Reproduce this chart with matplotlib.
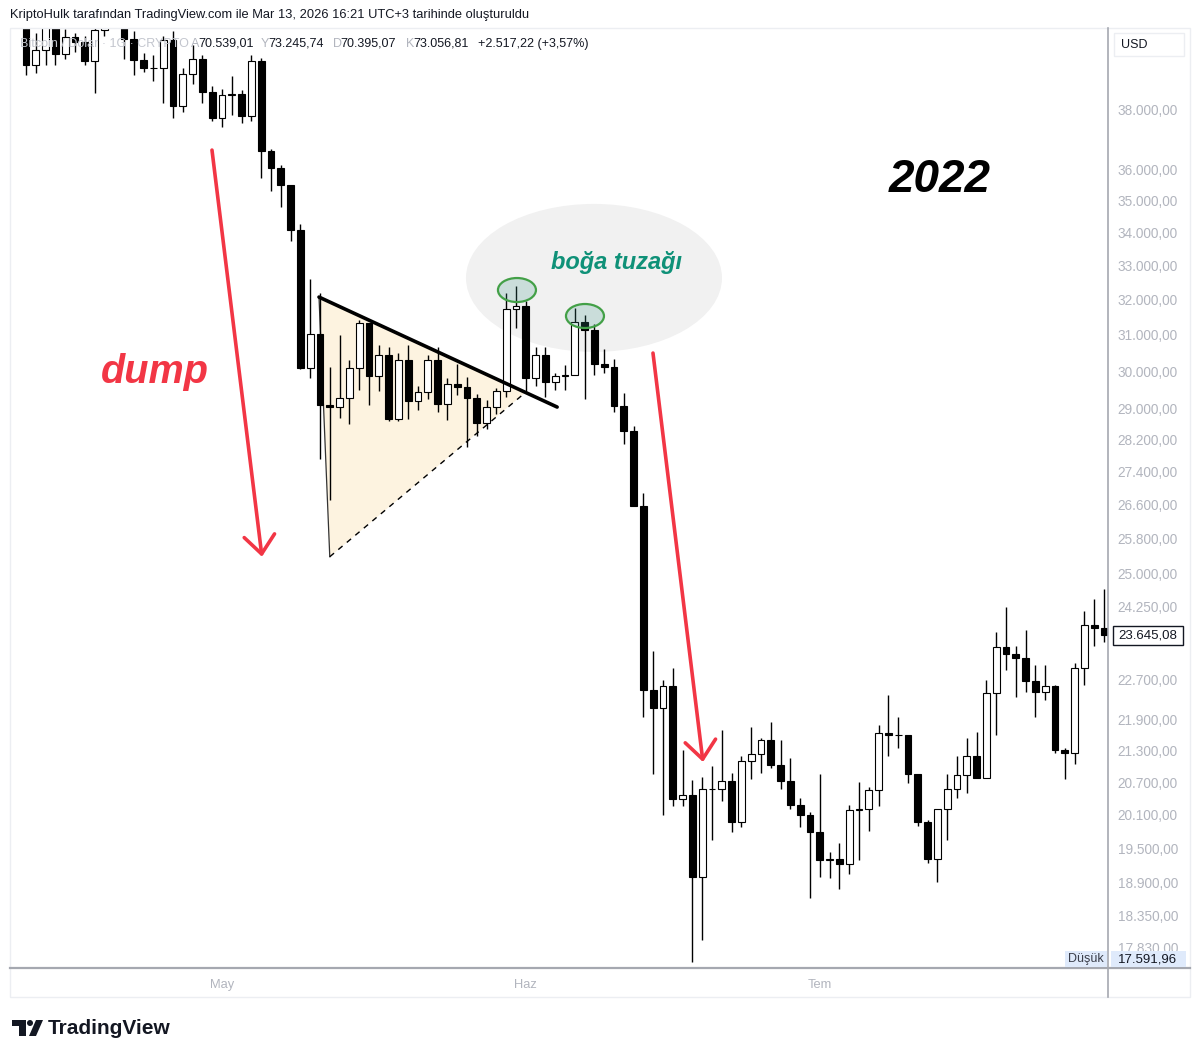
import matplotlib
matplotlib.use("Agg")
import matplotlib.pyplot as plt
from matplotlib.patches import Ellipse, Rectangle, Polygon
from matplotlib.lines import Line2D
from matplotlib.transforms import IdentityTransform
from matplotlib.ticker import FixedLocator, NullLocator, FuncFormatter
import numpy as np
import pandas as pd

# BTC / USD daily candles, 10 Apr - 30 Jul 2022
dates = pd.date_range("2022-04-10", "2022-07-30", freq="D")
opens = [42780, 42200, 39530, 40080, 41150, 39940, 40550, 40380, 39680, 40800, 41500, 41360,
         40480, 39710, 39450, 39450, 40430, 38120, 39240, 39740, 38600,
         37710, 38470, 38530, 37750, 39700, 36580, 36040, 35500, 34060, 30080, 31020, 29100,
         29050, 29290, 30080, 31330, 29870, 30440, 28720, 30310, 29200, 29430, 30290, 29110,
         29650, 29560, 29270, 28630, 29030, 29470, 31730,
         31800, 29800, 30450, 29700, 29860, 29900, 31370, 31130, 30200, 30110, 29080, 28420,
         26570, 22490, 22140, 22580, 20380, 20470, 19000, 20570, 20580, 20720, 19970, 21100,
         21230, 21500, 21030, 20730, 20280, 20100,
         19780, 19290, 19310, 19230, 20190, 20200, 20550, 21630, 21590, 21590, 20850, 19960,
         19320, 20210, 20570, 20830, 21190, 20780, 22430, 23390, 23230, 23160, 22680, 22460,
         22580, 21310, 21250, 22950, 23850, 23780]
highs = [43420, 42420, 40700, 41550, 41500, 40850, 40700, 40600, 41100, 41750, 42150, 42950,
         40780, 39980, 39900, 40600, 40780, 39450, 40250, 39900, 38800,
         38700, 39150, 38650, 39900, 39800, 36650, 36140, 35500, 34250, 32600, 32200, 30100,
         30990, 30300, 31400, 31330, 30700, 30650, 30500, 30700, 29600, 30450, 30650, 29800,
         30200, 29850, 29380, 29220, 29550, 32200, 32380,
         31970, 30650, 30650, 29950, 30150, 31750, 31550, 31300, 30600, 30330, 29420, 28550,
         26880, 23300, 22700, 22950, 21300, 20740, 20800, 21000, 21700, 20870, 21200, 21750,
         21550, 21850, 21500, 21150, 20400, 20150,
         20850, 19430, 19600, 20270, 20700, 20600, 21800, 22400, 21950, 21600, 20850, 20000,
         20200, 20850, 21200, 21550, 21650, 22700, 23700, 24250, 23400, 23750, 23000, 23000,
         22600, 21350, 23050, 24150, 24420, 24650]
lows = [42000, 39200, 39250, 39560, 39560, 39770, 40000, 39550, 38540, 40600, 40900, 39750,
        39200, 39300, 38980, 38200, 37700, 37900, 38880, 38200, 37600,
        37400, 37800, 37520, 37600, 35700, 35300, 34800, 33750, 30050, 29800, 27700, 26700,
        28750, 28600, 29500, 29100, 29470, 28680, 28680, 28730, 28950, 29250, 28900, 28700,
        29350, 28020, 28300, 28480, 28850, 29300, 31200,
        29400, 29600, 29300, 29500, 29500, 29880, 29250, 29900, 29950, 28900, 28100, 26600,
        21950, 20850, 20100, 20250, 20250, 17592, 17950, 19650, 20350, 19780, 19880, 20750,
        20880, 20970, 20580, 20200, 19870, 18650,
        19000, 18980, 18800, 19050, 19300, 19800, 20250, 21200, 21350, 20680, 19900, 19250,
        18920, 19650, 20400, 20500, 20770, 20770, 21600, 22900, 22350, 22450, 21950, 22300,
        21250, 20750, 21050, 22600, 23400, 23500]
closes = [42200, 39530, 40080, 41150, 39940, 40550, 40380, 39680, 40800, 41500, 41360, 40480,
          39710, 39450, 39450, 40430, 38120, 39240, 39740, 38600, 37710,
          38470, 38530, 37750, 39700, 36580, 36040, 35500, 34060, 30080, 31020, 29100, 29050,
          29290, 30080, 31330, 29870, 30440, 28720, 30310, 29200, 29430, 30290, 29110, 29650,
          29560, 29270, 28630, 29030, 29470, 31730, 31800,
          29800, 30450, 29700, 29860, 29900, 31370, 31130, 30200, 30110, 29080, 28420, 26570,
          22490, 22140, 22580, 20380, 20470, 19000, 20570, 20580, 20720, 19970, 21100, 21230,
          21500, 21030, 20730, 20280, 20100, 19780,
          19290, 19310, 19230, 20190, 20200, 20550, 21630, 21590, 21590, 20850, 19960, 19320,
          20210, 20570, 20830, 21190, 20780, 22430, 23390, 23230, 23160, 22680, 22460, 22580,
          21310, 21250, 22950, 23850, 23780, 23645.08]

# 23.500,00 sits under the last-price tag in the reference, so it is left out
price_ticks = [38000, 36000, 35000, 34000, 33000, 32000, 31000, 30000, 29000, 28200, 27400,
               26600, 25800, 25000, 24250, 22700, 21900, 21300, 20700, 20100, 19500,
               18900, 18350, 17830]
month_ticks = ["2022-05-01", "2022-06-01", "2022-07-01"]
month_labels = ["May", "Haz", "Tem"]

W, H = 1200, 1058
RED = "#f23645"
TEAL = "#0f9178"
GRAY = "#b2b5be"
DARK = "#131722"


def fx(x):
    return x / W


def fy(y):
    return 1 - y / H


def tr(v):
    s = f"{v:,.2f}"
    return s.replace(",", "X").replace(".", ",").replace("X", ".")


base = pd.Timestamp("2022-05-01")
x = np.array((dates - base).days, dtype=float)
o = np.array(opens, dtype=float)
h = np.array(highs, dtype=float)
l = np.array(lows, dtype=float)
c = np.array(closes, dtype=float)
up = c >= o

fig = plt.figure(figsize=(W / 100, H / 100), dpi=100)
fig.patch.set_facecolor("white")
ax = fig.add_axes([fx(10), fy(968), (1108 - 10) / W, (968 - 28) / H])
ax.set_yscale("log")
ax.set_xlim(-21.63, 90.41)
ax.set_ylim(17503, 40886)

# candles
ax.vlines(x, l, h, color="black", lw=1.0, zorder=2)
bottoms = np.minimum(o, c)
heights = np.abs(c - o)
ax.bar(x[up], heights[up], bottom=bottoms[up], width=0.7, color="white",
       edgecolor="black", lw=0.8, zorder=3)
ax.bar(x[~up], heights[~up], bottom=bottoms[~up], width=0.7, color="black",
       edgecolor="black", lw=0.8, zorder=3)

# axes styling
for s in ax.spines.values():
    s.set_visible(False)
ax.yaxis.tick_right()
ax.yaxis.set_major_locator(FixedLocator(price_ticks))
ax.yaxis.set_minor_locator(NullLocator())
ax.yaxis.set_major_formatter(FuncFormatter(lambda v, p: tr(v)))
ax.yaxis.set_minor_formatter(FuncFormatter(lambda v, p: ""))
ax.tick_params(axis="y", length=0, pad=7, labelsize=9.8, labelcolor=GRAY)
for t in ax.get_yticklabels():
    t.set_fontfamily("Liberation Sans")
mt = [(pd.Timestamp(d) - base).days for d in month_ticks]
ax.set_xticks(mt)
ax.set_xticklabels(month_labels, fontsize=9.3, color=GRAY, fontfamily="Liberation Sans")
ax.tick_params(axis="x", length=0, pad=8)

# triangle pattern
tri_d = [9.9, 11.0, 30.9]
tri_p = [32070, 25370, 29410]
ax.fill(tri_d, tri_p, color="#fdf3e0", zorder=1, lw=0)
ax.plot(tri_d[:2], tri_p[:2], color="#333333", lw=0.9, zorder=1.5)
ax.plot([tri_d[1], tri_d[2]], [tri_p[1], tri_p[2]], color="black", lw=1.0,
        ls=(0, (4, 4)), zorder=4)
ax.plot([9.9, 34.2], [32070, 29040], color="black", lw=2.6, zorder=4,
        solid_capstyle="round")


def disp(d, p):
    return ax.transData.transform((d, p))


# bull trap bubble
cx, cy = disp(37.96, 32630)
ax.add_artist(Ellipse((cx, cy), 256, 148, transform=IdentityTransform(),
                      facecolor="#f1f1f1", edgecolor="none", zorder=0.5))
for d, p in [(30.1, 32275), (37.04, 31527)]:
    ex, ey = disp(d, p)
    ax.add_artist(Ellipse((ex, ey), 38, 24, transform=IdentityTransform(),
                          facecolor=(0.25, 0.6, 0.55, 0.22), edgecolor="#43a047",
                          lw=1.6, zorder=5))
ax.text(40.3, 33100, "boğa tuzağı", color=TEAL, fontsize=17, fontweight="bold",
        fontstyle="italic", fontfamily="Liberation Sans", ha="center", va="center", zorder=6)

# arrows
for (d0, p0), (d1, p1) in [((-1.02, 36620), (4.08, 25370)), ((43.98, 30490), (49.08, 21080))]:
    ax.annotate("", xy=(d1, p1), xytext=(d0, p0),
                arrowprops=dict(arrowstyle="->,head_length=0.6,head_width=0.5", color=RED,
                                lw=2.6, shrinkA=0, shrinkB=0, mutation_scale=22), zorder=6)
ax.text(-6.84, 29970, "dump", color=RED, fontsize=28.5, fontweight="bold", fontstyle="italic",
        fontfamily="Liberation Sans", ha="center", va="center", zorder=6)
ax.text(73.27, 35640, "2022", color="black", fontsize=33, fontweight="bold", fontstyle="italic",
        fontfamily="Liberation Sans", ha="center", va="center", zorder=6)

# frame lines
fig.add_artist(Rectangle((fx(10), fy(997)), (1190 - 10) / W, (997 - 28) / H,
                         transform=fig.transFigure, fill=False, ec="#eceef2", lw=1))
fig.add_artist(Line2D([fx(10), fx(1190)], [fy(968), fy(968)], color="#a5a8b0", lw=1.6))
fig.add_artist(Line2D([fx(1108), fx(1108)], [fy(28), fy(997)], color="#a5a8b0", lw=1.2))

# header texts
fig.text(fx(10), fy(15), "KriptoHulk tarafından TradingView.com ile Mar 13, 2026 16:21 UTC+3 tarihinde oluşturuldu",
         fontsize=9.3, color=DARK, fontfamily="Liberation Sans", va="center")
fig.text(fx(20), fy(44), "Bitcoin / Dolar · 1G · CRYPTO", fontsize=9, color="#c3c6ce",
         fontfamily="Liberation Sans", va="center")
legend_items = [(191, "A", GRAY), (198, "70.539,01", DARK), (261, "Y", GRAY), (268, "73.245,74", DARK),
                (333, "D", GRAY), (340, "70.395,07", DARK), (406, "K", GRAY), (413, "73.056,81", DARK),
                (478, "+2.517,22 (+3,57%)", DARK)]
for xp, s, col in legend_items:
    fig.text(fx(xp), fy(44), s, fontsize=9, color=col, fontfamily="Liberation Sans", va="center")

# price scale extras
fig.add_artist(Rectangle((fx(1114), fy(56)), 70 / W, 23 / H, transform=fig.transFigure,
                         fc="white", ec="#eceef2", lw=1))
fig.text(fx(1121), fy(44.5), "USD", fontsize=9, color=DARK, fontfamily="Liberation Sans", va="center")
fig.add_artist(Rectangle((fx(1113), fy(645)), 70 / W, 19 / H, transform=fig.transFigure,
                         fc="white", ec=DARK, lw=1, zorder=5))
fig.text(fx(1118), fy(635.5), tr(closes[-1]), fontsize=9.5, color=DARK,
         fontfamily="Liberation Sans", va="center", zorder=6)
fig.add_artist(Rectangle((fx(1065), fy(967)), 42 / W, 16 / H, transform=fig.transFigure,
                         fc="#dfeafb", ec="none", zorder=5))
fig.add_artist(Rectangle((fx(1111), fy(967)), 75 / W, 16 / H, transform=fig.transFigure,
                         fc="#dfeafb", ec="none", zorder=5))
fig.text(fx(1068), fy(959), "Düşük", fontsize=9, color="#3a3e4a", fontfamily="Liberation Sans",
         va="center", zorder=6)
fig.text(fx(1118), fy(959), tr(min(lows) - 0.04), fontsize=9.5, color=DARK,
         fontfamily="Liberation Sans", va="center", zorder=6)

# TradingView logo
fig.add_artist(Polygon([(fx(12), fy(1020)), (fx(26), fy(1020)), (fx(26), fy(1036)), (fx(19), fy(1036)),
                        (fx(19), fy(1026)), (fx(12), fy(1026))], closed=True,
                       transform=fig.transFigure, fc=DARK, ec="none"))
fig.add_artist(Ellipse((fx(30), fy(1023)), 6 / W, 6 / H, transform=fig.transFigure, fc=DARK, ec="none"))
fig.add_artist(Polygon([(fx(36), fy(1020)), (fx(43), fy(1020)), (fx(36), fy(1036)), (fx(29), fy(1036))],
                       closed=True, transform=fig.transFigure, fc=DARK, ec="none"))
fig.text(fx(48), fy(1028), "TradingView", fontsize=15, fontweight="bold", color=DARK,
         fontfamily="Liberation Sans", va="center")

fig.savefig("out.png", dpi=100, facecolor="white")
